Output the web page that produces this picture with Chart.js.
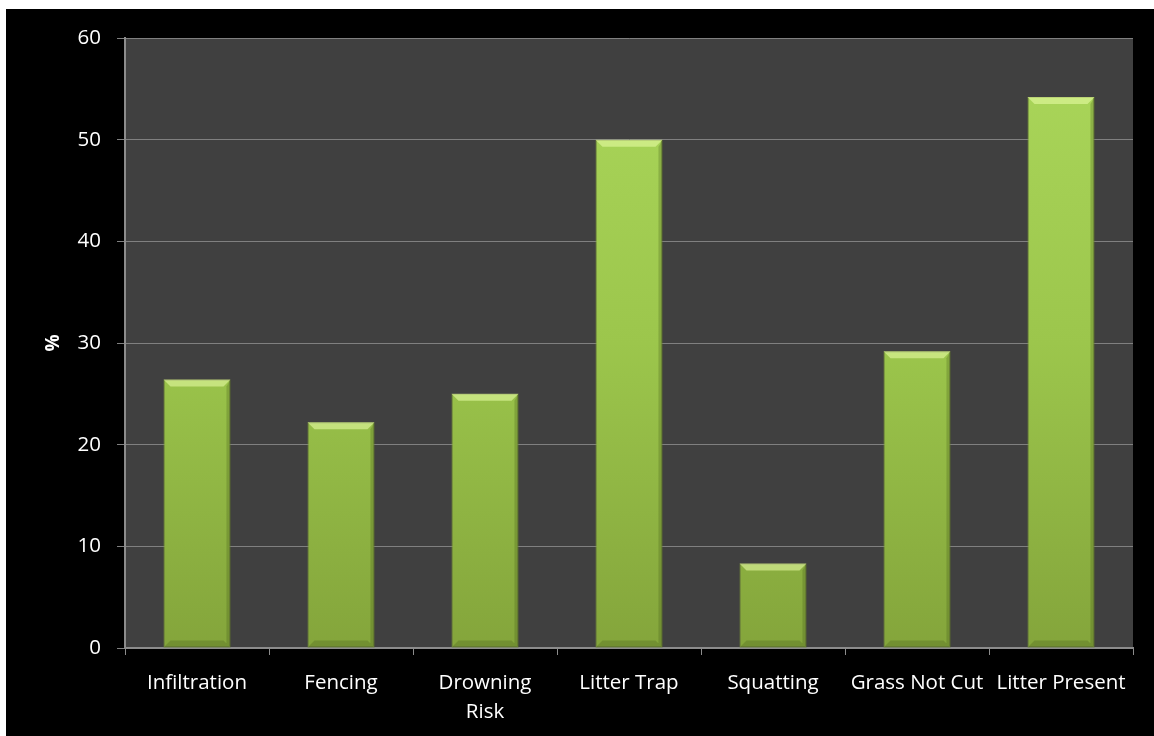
<!DOCTYPE html>
<html>
<head>
<meta charset="utf-8">
<script src="https://cdn.jsdelivr.net/npm/chart.js@4.4.0/dist/chart.umd.min.js"></script>
<style>
  html, body { margin: 0; padding: 0; background: #ffffff; }
  #wrap { position: absolute; left: 6px; top: 9px; width: 1148px; height: 727px; background: #000000; }
</style>
</head>
<body>
<div id="wrap"><canvas id="chart"></canvas></div>
<script>
var categories = ['Infiltration', 'Fencing', ['Drowning', 'Risk'], 'Litter Trap', 'Squatting', 'Grass Not Cut', 'Litter Present'];
var percentValues = [26.4, 22.2, 25.0, 50.0, 8.3, 29.2, 54.2];
var yTicks = [0, 10, 20, 30, 40, 50, 60];

var ctx = document.getElementById('chart').getContext('2d');

function barGradient(context) {
    var area = context.chart.chartArea;
    if (!area) {
        return '#9cc84b';
    }
    var g = context.chart.ctx.createLinearGradient(0, area.top, 0, area.bottom);
    g.addColorStop(0, '#abd75b');
    g.addColorStop(0.5, '#9cc64c');
    g.addColorStop(1, '#84a53b');
    return g;
}

// dark plot background
var plotBackground = {
    id: 'plotBackground',
    beforeDraw: function (chart) {
        var a = chart.chartArea;
        var c = chart.ctx;
        c.save();
        c.fillStyle = '#404040';
        c.fillRect(a.left, a.top, a.right - a.left, a.bottom - a.top);
        c.restore();
    }
};

// light bevel on top of each bar
var bevel = {
    id: 'bevel',
    afterDatasetsDraw: function (chart) {
        var c = chart.ctx;
        chart.getDatasetMeta(0).data.forEach(function (bar) {
            var half = bar.width / 2;
            var l = bar.x - half, r = bar.x + half, t = bar.y, b = bar.base;
            var d = 7;
            c.save();
            c.fillStyle = 'rgba(235,255,170,0.55)';
            c.beginPath();
            c.moveTo(l, t); c.lineTo(r, t); c.lineTo(r - d, t + d); c.lineTo(l + d, t + d);
            c.closePath(); c.fill();
            c.fillStyle = 'rgba(60,80,20,0.25)';
            c.beginPath();
            c.moveTo(r, t); c.lineTo(r, b); c.lineTo(r - 4, b - 4); c.lineTo(r - 4, t + d);
            c.closePath(); c.fill();
            c.beginPath();
            c.moveTo(l, b); c.lineTo(r, b); c.lineTo(r - d, b - d); c.lineTo(l + d, b - d);
            c.closePath(); c.fill();
            c.restore();
        });
    }
};

var chart = new Chart(ctx, {
    type: 'bar',
    data: {
        labels: categories,
        datasets: [{
            label: '%',
            data: percentValues,
            backgroundColor: barGradient,
            borderColor: '#7f9c35',
            borderWidth: 1,
            borderSkipped: false,
            barPercentage: 0.465,
            categoryPercentage: 1
        }]
    },
    options: {
        responsive: true,
        maintainAspectRatio: false,
        animation: false,
        layout: {
            padding: { left: 0, top: 29, right: 21, bottom: 0 }
        },
        plugins: {
            legend: { display: false },
            tooltip: { enabled: false }
        },
        scales: {
            x: {
                offset: true,
                grid: {
                    drawOnChartArea: false,
                    drawTicks: true,
                    tickLength: 7,
                    color: '#8c8c8c',
                    offset: true
                },
                border: { color: '#8c8c8c', width: 2 },
                ticks: {
                    color: '#ffffff',
                    font: { family: 'Open Sans', size: 20.5, lineHeight: 1.45 },
                    padding: 13,
                    maxRotation: 0,
                    autoSkip: false
                },
                afterFit: function (scale) { scale.height = 88; }
            },
            y: {
                min: 0,
                max: 60,
                afterBuildTicks: function (scale) {
                    scale.ticks = yTicks.map(function (v) { return { value: v }; });
                },
                grid: {
                    color: '#808080',
                    lineWidth: 1,
                    tickLength: 8
                },
                border: { color: '#8c8c8c', width: 2 },
                ticks: {
                    color: '#ffffff',
                    font: { family: 'Open Sans', size: 20.5 },
                    padding: 16
                },
                title: {
                    display: true,
                    text: '%',
                    color: '#ffffff',
                    font: { family: 'Open Sans', size: 19, weight: 'bold' },
                    padding: { top: 36, bottom: 0 }
                },
                afterFit: function (scale) { scale.width = 119; }
            }
        }
    },
    plugins: [plotBackground, bevel]
});
</script>
</body>
</html>
